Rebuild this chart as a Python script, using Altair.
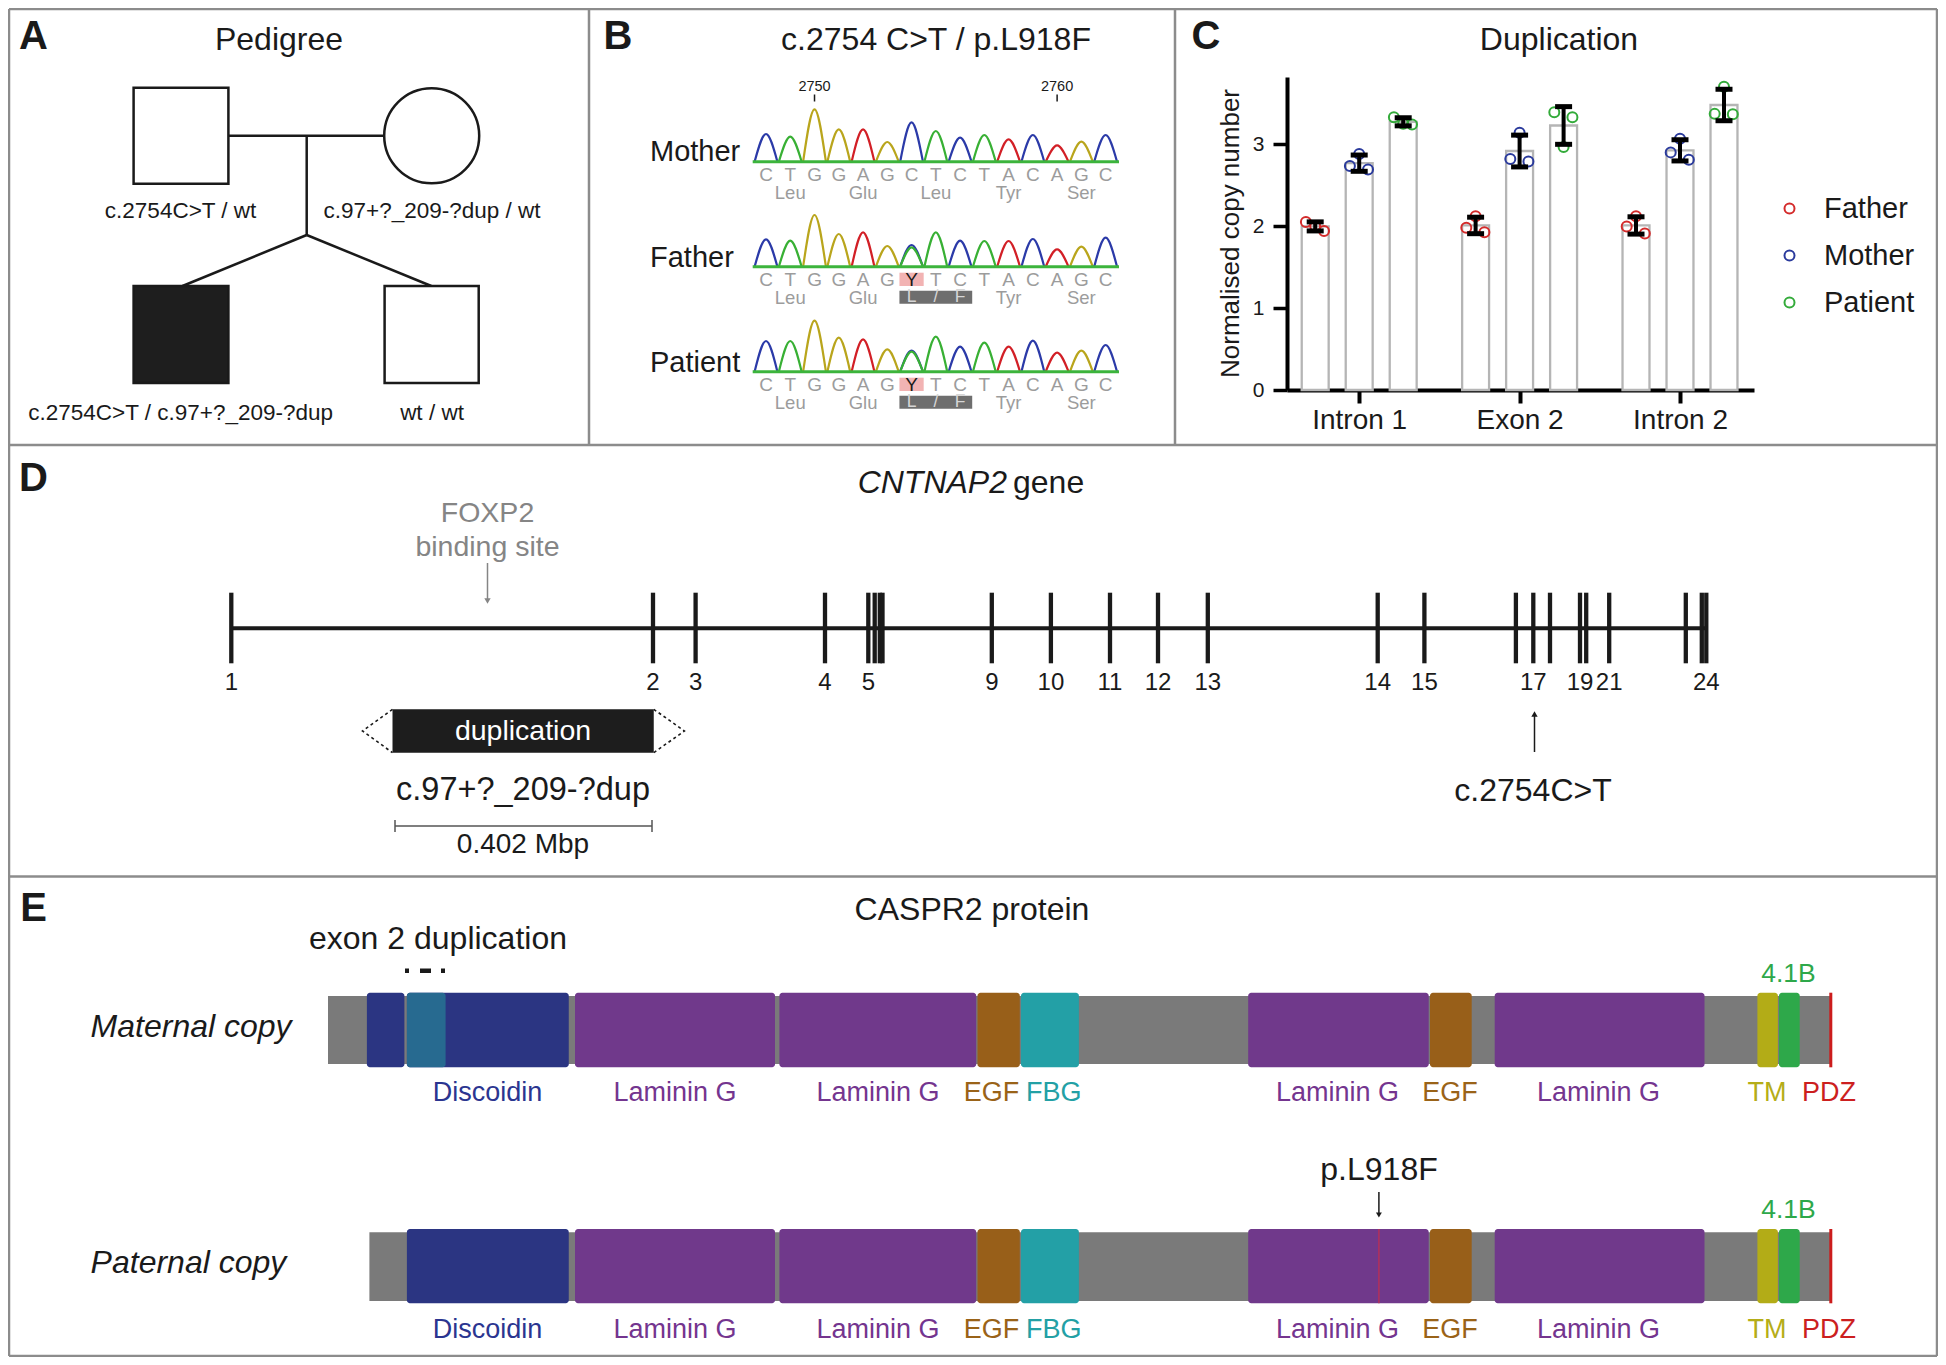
import altair as alt
import numpy as np
import pandas as pd

FONT = "Liberation Sans, Arial, Helvetica, sans-serif"
INK = "#1a1a1a"
BORDER = "#8c8c8c"

# ------------------------------------------------------------------ data
# Panel A: pedigree (positions)
PED_LABELS = ["c.2754C>T / wt", "c.97+?_209-?dup / wt", "c.2754C>T / c.97+?_209-?dup", "wt / wt"]
PED_LABEL_X = [180.6, 432.0, 180.6, 432.0]
PED_LABEL_Y = [210.7, 210.7, 413.0, 413.0]
PED_SQ_X = [133.6, 133.6, 384.6]
PED_SQ_X2 = [228.4, 228.4, 478.7]
PED_SQ_Y = [87.7, 286.0, 286.0]
PED_SQ_Y2 = [183.7, 383.0, 383.0]
PED_SQ_FILL = ["white", "#1e1e1e", "white"]
PED_CIRCLE = [431.7, 135.7]
PED_LINE_X = [228.4, 306.7, 306.7, 306.7]
PED_LINE_Y = [135.7, 135.7, 235.0, 235.0]
PED_LINE_X2 = [384.6, 306.7, 182.5, 431.3]
PED_LINE_Y2 = [135.7, 235.0, 286.0, 286.0]

# Panel B: Sanger traces
B_ROWS = ["Mother", "Father", "Patient"]
B_BASES = ["C", "T", "G", "G", "A", "G", "C", "T", "C", "T", "A", "C", "A", "G", "C"]
B_CALLS = {
    "Mother": B_BASES,
    "Father": B_BASES[:6] + ["Y"] + B_BASES[7:],
    "Patient": B_BASES[:6] + ["Y"] + B_BASES[7:],
}
B_HEIGHTS = {
    "Mother": [27.7, 25, 52.3, 32.3, 32.3, 19.7, 39.3, 30.7, 24, 26.7, 22.3, 26.7, 16.3, 20, 26.7],
    "Father": [27.3, 26, 51.7, 32.7, 34.3, 20.7, 21.7, 34.3, 26, 25.7, 25.7, 27.7, 17.3, 20, 29],
    "Patient": [30.7, 30.7, 51, 34, 32.3, 22.3, 21, 35, 25, 29, 25, 31, 19, 21, 26.7],
}
B_SECOND = {"Father": (6, "T", 19.3), "Patient": (6, "T", 20.0)}
B_AMINO = ["Leu", "Glu", "Leu", "Tyr", "Ser"]
B_AMINO_POS = [1, 4, 7, 10, 13]
B_VARIANT_AA = ["L", "/", "F"]
B_POS_LABELS = ["2750", "2760"]
B_POS_IDX = [2, 12]
TRACE_COLORS = {"A": "#d21f26", "C": "#2b3aa8", "G": "#b9a51c", "T": "#38b034"}
B_X0, B_STEP, B_HALF = 766.0, 24.26, 11.4
B_BASELINE = [161.7, 266.7, 371.7]
B_LABEL_Y = [152.0, 258.0, 363.0]

# Panel C: qPCR copy number
REGIONS = ["Intron 1", "Exon 2", "Intron 2"]
SAMPLES = ["Father", "Mother", "Patient"]
SAMPLE_COLORS = ["#d42b2b", "#2a3a9c", "#33ab3a"]
CN = {
    "Father": [[2.05, 2.00, 1.94], [1.98, 2.12, 1.925], [1.995, 2.12, 1.91]],
    "Mother": [[2.735, 2.88, 2.69], [2.82, 3.14, 2.79], [2.90, 3.065, 2.81]],
    "Patient": [[3.33, 3.25, 3.24], [3.39, 2.965, 3.33], [3.37, 3.70, 3.365]],
}
JITTER = [-0.058, 0.0, 0.055]
BAR_OFFSET, BAR_HALF = 0.2743, 0.084

# Panel D: CNTNAP2 gene
EXON_NUM = list(range(1, 25))
EXON_X = [231.3, 653.0, 695.6, 825.0, 868.3, 874.7, 879.8, 882.5, 991.8, 1050.9, 1110.0, 1158.0,
          1207.8, 1377.7, 1424.4, 1515.9, 1533.3, 1550.0, 1580.0, 1586.2, 1609.2, 1685.8, 1701.8, 1706.3]
EXON_LABELLED = [1, 2, 3, 4, 5, 9, 10, 11, 12, 13, 14, 15, 17, 19, 21, 24]

# Panel E: CASPR2 protein domains  (name, start, end) in figure x-units
DOMAINS_COMMON = [
    ("Laminin G", 575.0, 775.0), ("Laminin G", 779.4, 976.2), ("EGF", 977.5, 1019.8),
    ("FBG", 1021.0, 1078.9), ("Laminin G", 1248.2, 1428.7), ("EGF", 1430.0, 1471.7),
    ("Laminin G", 1494.7, 1704.5), ("TM", 1757.4, 1777.9), ("4.1B", 1779.0, 1799.7),
]
DOMAINS_MATERNAL = [("Discoidin", 366.9, 404.4), ("Discoidin", 406.9, 568.75), ("dup", 406.9, 445.6)]
DOMAINS_PATERNAL = [("Discoidin", 406.9, 568.75)]
DOMAIN_COLORS = {"Discoidin": "#2b3582", "dup": "#276a90", "Laminin G": "#70398b", "EGF": "#985f19",
                 "FBG": "#23a0a6", "TM": "#b3ac17", "4.1B": "#2ea84a", "PDZ": "#cc1c1c"}
LABEL_COLORS = {"Discoidin": "#2b3590", "Laminin G": "#74358f", "EGF": "#9a6318", "FBG": "#23a0a5",
                "TM": "#b5ad18", "PDZ": "#cc1f1f", "4.1B": "#2ea84a"}
DOMAIN_LABELS = ["Discoidin", "Laminin G", "Laminin G", "EGF", "FBG", "Laminin G", "EGF", "Laminin G", "TM", "PDZ"]
DOMAIN_LABEL_X = [487.5, 675.0, 878.0, 991.6, 1053.7, 1337.5, 1450.0, 1598.6, 1767.0, 1829.0]
PROT_START = {"Maternal copy": 328.0, "Paternal copy": 369.4}
PROT_END = 1830.8
PROT_BOX_Y = {"Maternal copy": (992.7, 1067.3), "Paternal copy": (1229.0, 1303.3)}
PROT_BB_Y = {"Maternal copy": (996.0, 1064.0), "Paternal copy": (1232.3, 1301.0)}
PROT_LABEL_Y = {"Maternal copy": (1026.7, 1093.3, 974.0), "Paternal copy": (1263.3, 1330.0, 1210.0)}
MUTATION_X = 1378.9

# ------------------------------------------------------------------ frame
W, H = 1930, 1349
OX, OY = 8, 8
XS = alt.Scale(domain=[OX, OX + W], nice=False, zero=False)
YS = alt.Scale(domain=[OY + H, OY], nice=False, zero=False)


def gx(f="x"):
    return alt.X(f"{f}:Q", scale=XS, axis=None)


def gy(f="y"):
    return alt.Y(f"{f}:Q", scale=YS, axis=None)


def rules(df, color=INK, width=2.5, dash=None, cap="butt"):
    kw = dict(color=color, strokeWidth=width, strokeCap=cap)
    if dash:
        kw["strokeDash"] = dash
    return alt.Chart(df).mark_rule(**kw).encode(x=gx(), y=gy(), x2="x2:Q", y2="y2:Q")


def rects(df, stroke=None, width=0, radius=0):
    kw = dict(cornerRadius=radius)
    if stroke:
        kw.update(stroke=stroke, strokeWidth=width)
    return alt.Chart(df).mark_rect(**kw).encode(
        x=gx(), y=gy(), x2="x2:Q", y2="y2:Q", color=alt.Color("fill:N", scale=None))


def texts(df, size, color=INK, align="center", style="normal", weight="normal", baseline="middle"):
    enc = dict(x=gx(), y=gy(), text="t:N")
    kw = dict(align=align, baseline=baseline, fontSize=size, font=FONT, fontStyle=style, fontWeight=weight)
    if "c" in df.columns:
        enc["color"] = alt.Color("c:N", scale=None)
    else:
        kw["color"] = color
    return alt.Chart(df).mark_text(**kw).encode(**enc)


def arrowhead(x, y, shape, color=INK, size=45):
    return alt.Chart(pd.DataFrame({"x": [x], "y": [y]})).mark_point(
        shape=shape, filled=True, size=size, color=color, opacity=1).encode(x=gx(), y=gy())


layers = []

# ---- panel borders
layers.append(rules(pd.DataFrame({
    "x": [9, 9, 9, 9, 9, 1937, 589, 1175],
    "y": [9, 445, 876.5, 1356, 9, 9, 9, 9],
    "x2": [1937, 1937, 1937, 1937, 9, 1937, 589, 1175],
    "y2": [9, 445, 876.5, 1356, 1356, 1356, 445, 445],
}), color=BORDER, width=2.5))

# ---- panel letters and titles
layers.append(texts(pd.DataFrame({"t": ["A", "B", "C", "D", "E"],
                                  "x": [33.5, 618, 1206, 33.5, 33.5],
                                  "y": [37, 37, 37, 479, 909]}), 40, weight="bold"))
layers.append(texts(pd.DataFrame({"t": ["Pedigree", "c.2754 C>T / p.L918F", "Duplication", "CASPR2 protein"],
                                  "x": [279, 936, 1559, 972], "y": [40, 40, 40, 910]}), 32))
layers.append(texts(pd.DataFrame({"t": ["CNTNAP2"], "x": [1007], "y": [483]}), 32, align="right", style="italic"))
layers.append(texts(pd.DataFrame({"t": ["gene"], "x": [1013], "y": [483]}), 32, align="left"))

# ---- panel A: pedigree
layers.append(rules(pd.DataFrame({"x": PED_LINE_X, "y": PED_LINE_Y, "x2": PED_LINE_X2, "y2": PED_LINE_Y2}),
                    width=2.5))
layers.append(rects(pd.DataFrame({"x": PED_SQ_X, "x2": PED_SQ_X2, "y": PED_SQ_Y, "y2": PED_SQ_Y2,
                                  "fill": PED_SQ_FILL}), stroke=INK, width=2.5))
layers.append(alt.Chart(pd.DataFrame({"x": [PED_CIRCLE[0]], "y": [PED_CIRCLE[1]]})).mark_point(
    shape="circle", size=95 * 95, filled=False, stroke=INK, strokeWidth=2.5, fill="white", opacity=1
).encode(x=gx(), y=gy()))
layers.append(texts(pd.DataFrame({"t": PED_LABELS, "x": PED_LABEL_X, "y": PED_LABEL_Y}), 22.5))

# ---- panel B: chromatograms
peak_rows, letter_rows, aa_rows = [], [], []
pink, darkbox, lf_rows = [], [], []
for r, name in enumerate(B_ROWS):
    base_y = B_BASELINE[r]
    traces = [(i, b, h) for i, (b, h) in enumerate(zip(B_BASES, B_HEIGHTS[name]))]
    if name in B_SECOND:
        traces.append(B_SECOND[name])
    for (i, b, h) in traces:
        cx = B_X0 + i * B_STEP
        pid = f"{name}-{i}-{b}"
        for k, (dx, hh) in enumerate([(-B_HALF, 0.0), (0.0, h), (B_HALF, 0.0)]):
            peak_rows.append({"x": cx + dx, "y": base_y - hh, "pid": pid, "k": k, "col": TRACE_COLORS[b]})
    for i, b in enumerate(B_CALLS[name]):
        letter_rows.append({"t": b, "x": B_X0 + i * B_STEP, "y": base_y + 13.3,
                            "c": INK if b == "Y" else "#9c9c9c"})
        if b == "Y":
            pink.append({"x": B_X0 + (i - 0.5) * B_STEP, "x2": B_X0 + (i + 0.5) * B_STEP,
                         "y": base_y + 6.0, "y2": base_y + 19.3, "fill": "#f2b3b3"})
            darkbox.append({"x": B_X0 + (i - 0.5) * B_STEP, "x2": B_X0 + (i + 2.5) * B_STEP,
                            "y": base_y + 24.0, "y2": base_y + 37.0, "fill": "#6e6e6e"})
            for j, t in enumerate(B_VARIANT_AA):
                lf_rows.append({"t": t, "x": B_X0 + (i + j) * B_STEP, "y": base_y + 30.5})
    for aa, p in zip(B_AMINO, B_AMINO_POS):
        if name != "Mother" and p == 7:
            continue
        aa_rows.append({"t": aa, "x": B_X0 + p * B_STEP, "y": base_y + 31.0})

peaks = pd.DataFrame(peak_rows)
layers.append(alt.Chart(peaks).mark_line(interpolate="monotone", strokeWidth=2.2, strokeJoin="round").encode(
    x=gx(), y=gy(), detail="pid:N", order="k:Q", color=alt.Color("col:N", scale=None)))
layers.append(rules(pd.DataFrame({"x": [752.7] * 3, "x2": [1119.0] * 3, "y": B_BASELINE, "y2": B_BASELINE}),
                    color="#3cb43c", width=3))
layers.append(rects(pd.DataFrame(pink)))
layers.append(rects(pd.DataFrame(darkbox)))
layers.append(texts(pd.DataFrame(letter_rows), 19))
layers.append(texts(pd.DataFrame(aa_rows), 18.5, color="#9c9c9c"))
layers.append(texts(pd.DataFrame(lf_rows), 17.5, color="#d6d6d6"))
layers.append(texts(pd.DataFrame({"t": B_ROWS, "x": [650] * 3, "y": B_LABEL_Y}), 29, align="left"))
pos_x = [B_X0 + i * B_STEP for i in B_POS_IDX]
layers.append(texts(pd.DataFrame({"t": B_POS_LABELS, "x": pos_x, "y": [86.7, 86.7]}), 14.5))
layers.append(rules(pd.DataFrame({"x": pos_x, "x2": pos_x, "y": [94.5, 94.5], "y2": [101.5, 101.5]}),
                    width=1.5))

# ---- panel D: gene
layers.append(rules(pd.DataFrame({"x": [EXON_X[0]], "x2": [EXON_X[-1] + 1.5], "y": [628.3], "y2": [628.3]}),
                    width=4))
layers.append(rules(pd.DataFrame({"x": EXON_X, "x2": EXON_X, "y": [592.7] * 24, "y2": [663.3] * 24}),
                    width=4.3))
layers.append(texts(pd.DataFrame({"t": [str(n) for n in EXON_LABELLED],
                                  "x": [EXON_X[n - 1] for n in EXON_LABELLED],
                                  "y": [683.3] * len(EXON_LABELLED)}), 24))
layers.append(texts(pd.DataFrame({"t": ["FOXP2", "binding site"], "x": [487.5, 487.5], "y": [512.7, 547.3]}),
                    28.5, color="#858585"))
layers.append(rules(pd.DataFrame({"x": [487.5], "x2": [487.5], "y": [563.0], "y2": [600.0]}),
                    color="#858585", width=1.5))
layers.append(arrowhead(487.5, 601.0, "triangle-down", color="#858585", size=40))
layers.append(rects(pd.DataFrame({"x": [392.5], "x2": [653.75], "y": [709.3], "y2": [752.7], "fill": ["#1d1d1d"]})))
chev = pd.DataFrame({"x": [392.5, 362.5, 392.5, 653.75, 684.4, 653.75],
                     "y": [709.3, 731.0, 752.7, 709.3, 731.0, 752.7],
                     "g": ["l"] * 3 + ["r"] * 3, "k": [0, 1, 2, 0, 1, 2]})
layers.append(alt.Chart(chev).mark_line(color=INK, strokeWidth=1.6, strokeDash=[3, 3]).encode(
    x=gx(), y=gy(), detail="g:N", order="k:Q"))
layers.append(texts(pd.DataFrame({"t": ["duplication"], "x": [523.0], "y": [731.0]}), 28.5, color="white"))
layers.append(texts(pd.DataFrame({"t": ["c.97+?_209-?dup"], "x": [523.0], "y": [789.5]}), 32.5))
layers.append(rules(pd.DataFrame({"x": [395.0, 395.0, 652.0], "x2": [652.0, 395.0, 652.0],
                                  "y": [826.0, 820.0, 820.0], "y2": [826.0, 832.0, 832.0]}),
                    color="#555555", width=1.5))
layers.append(texts(pd.DataFrame({"t": ["0.402 Mbp"], "x": [523.0], "y": [845.0]}), 28))
layers.append(rules(pd.DataFrame({"x": [1534.5], "x2": [1534.5], "y": [752.0], "y2": [716.0]}), width=1.5))
layers.append(arrowhead(1534.5, 714.0, "triangle-up", size=40))
layers.append(texts(pd.DataFrame({"t": ["c.2754C>T"], "x": [1533.0], "y": [790.7]}), 32))

# ---- panel E: protein
bb_rows, dom_rows, lab_rows, green_rows, pdz_rows = [], [], [], [], []
for copy, doms in [("Maternal copy", DOMAINS_MATERNAL), ("Paternal copy", DOMAINS_PATERNAL)]:
    by, by2 = PROT_BB_Y[copy]
    bb_rows.append({"x": PROT_START[copy], "x2": PROT_END, "y": by, "y2": by2, "fill": "#7a7a7a"})
    dy, dy2 = PROT_BOX_Y[copy]
    for name, s, e in doms + DOMAINS_COMMON:
        dom_rows.append({"x": s, "x2": e, "y": dy, "y2": dy2, "fill": DOMAIN_COLORS[name]})
    pdz_rows.append({"x": PROT_END, "x2": PROT_END, "y": dy, "y2": dy2})
    ty, ly, gy41 = PROT_LABEL_Y[copy]
    for t, x in zip(DOMAIN_LABELS, DOMAIN_LABEL_X):
        lab_rows.append({"t": t, "x": x, "y": ly, "c": LABEL_COLORS[t]})
    green_rows.append({"t": "4.1B", "x": 1788.5, "y": gy41, "c": LABEL_COLORS["4.1B"]})
layers.append(rects(pd.DataFrame(bb_rows)))
layers.append(rects(pd.DataFrame(dom_rows), radius=3))
layers.append(rules(pd.DataFrame(pdz_rows), color=DOMAIN_COLORS["PDZ"], width=3))
py, py2 = PROT_BOX_Y["Paternal copy"]
layers.append(rules(pd.DataFrame({"x": [MUTATION_X], "x2": [MUTATION_X], "y": [py], "y2": [py2]}),
                    color="#b3305a", width=1.5))
layers.append(texts(pd.DataFrame(lab_rows), 27))
layers.append(texts(pd.DataFrame(green_rows), 26.5))
layers.append(texts(pd.DataFrame({"t": list(PROT_START.keys()), "x": [90.6, 90.6],
                                  "y": [PROT_LABEL_Y[c][0] for c in PROT_START]}), 32, align="left",
                    style="italic"))
layers.append(texts(pd.DataFrame({"t": ["exon 2 duplication"], "x": [438.0], "y": [939.0]}), 32))
layers.append(rules(pd.DataFrame({"x": [405.0], "x2": [445.5], "y": [970.7], "y2": [970.7]}),
                    width=4.5, dash=[4, 11, 11, 10, 4, 60]))
layers.append(texts(pd.DataFrame({"t": ["p.L918F"], "x": [1379.0], "y": [1170.0]}), 32))
layers.append(rules(pd.DataFrame({"x": [MUTATION_X], "x2": [MUTATION_X], "y": [1192.0], "y2": [1213.0]}),
                    width=1.5))
layers.append(arrowhead(MUTATION_X, 1215.0, "triangle-down", size=35))

main = alt.layer(*layers)

# ------------------------------------------------------------------ panel C (own scales)
rows, pts = [], []
for gi, reg in enumerate(REGIONS):
    for si, s in enumerate(SAMPLES):
        vals = np.array(CN[s][gi])
        xpos = gi + 1 + (si - 1) * BAR_OFFSET
        m, sd = vals.mean(), vals.std(ddof=1)
        rows.append({"region": reg, "sample": s, "xpos": xpos, "xl": xpos - BAR_HALF, "xr": xpos + BAR_HALF,
                     "mean": m, "lo": m - sd, "hi": m + sd, "zero": 0.0})
        for k, v in enumerate(vals):
            pts.append({"sample": s, "xp": xpos + JITTER[k], "value": v})
cdf = pd.DataFrame(rows)
pdf = pd.DataFrame(pts)

AX_X0, AX_X1, AX_Y0, AX_Y1 = 1287.0, 1754.0, 390.0, 77.0
CX = alt.Scale(domain=[1 - (1359.2 - AX_X0) / 160.4, 3 + (AX_X1 - 1680.0) / 160.4],
               range=[AX_X0 - OX, AX_X1 - OX], nice=False, zero=False)
CY = alt.Scale(domain=[0, 3.82], range=[AX_Y0 - OY, AX_Y1 - OY], nice=False, zero=False)
label_expr = " : ".join(f"datum.value == {i + 1} ? '{r}'" for i, r in enumerate(REGIONS[:-1])) + f" : '{REGIONS[-1]}'"
x_axis = alt.Axis(orient="bottom", offset=(AX_Y0 - OY) - H, values=[1, 2, 3], labelExpr=label_expr,
                  domainColor="black", domainWidth=4, tickColor="black", tickWidth=4, tickSize=13,
                  labelFont=FONT, labelFontSize=28, labelColor=INK, labelPadding=3, labelFlush=False,
                  grid=False, title=None)
y_axis = alt.Axis(orient="left", offset=-(AX_X0 - OX), values=[0, 1, 2, 3], domainColor="black",
                  domainWidth=4, tickColor="black", tickWidth=3.5, tickSize=14, labelFont=FONT,
                  labelFontSize=21, labelColor=INK, labelPadding=9, labelFlush=False, grid=False,
                  title="Normalised copy number", titleFont=FONT, titleFontSize=26, titleFontWeight="normal",
                  titleColor=INK, titleX=AX_X0 - 1238.0 - (AX_X0 - 1238.0) * 2, titleY=233.0 - OY,
                  titleAngle=270, titleBaseline="alphabetic", titleAlign="center")

bars = alt.Chart(cdf).mark_bar(fill="white", stroke="#b5b5b5", strokeWidth=2.3).encode(
    x=alt.X("xl:Q", scale=CX, axis=x_axis), x2="xr:Q",
    y=alt.Y("mean:Q", scale=CY, axis=y_axis), y2="zero:Q")
points = alt.Chart(pdf).mark_point(shape="circle", filled=False, size=100, strokeWidth=2, opacity=1).encode(
    x=alt.X("xp:Q", scale=CX, axis=x_axis), y=alt.Y("value:Q", scale=CY, axis=y_axis),
    color=alt.Color("sample:N", scale=alt.Scale(domain=SAMPLES, range=SAMPLE_COLORS),
                    legend=alt.Legend(orient="none", legendX=1767, legendY=186, title=None, labelFont=FONT,
                                      labelFontSize=29, labelColor=INK, symbolSize=100, symbolStrokeWidth=2,
                                      symbolType="circle", labelOffset=20, rowPadding=17, padding=0)))
err = alt.Chart(cdf).mark_rule(color="black", strokeWidth=4).encode(
    x=alt.X("xpos:Q", scale=CX, axis=x_axis), y=alt.Y("lo:Q", scale=CY, axis=y_axis), y2="hi:Q")
caps_hi = alt.Chart(cdf).mark_tick(color="black", orient="horizontal", size=17, thickness=5, opacity=1).encode(
    x=alt.X("xpos:Q", scale=CX, axis=x_axis), y=alt.Y("hi:Q", scale=CY, axis=y_axis))
caps_lo = alt.Chart(cdf).mark_tick(color="black", orient="horizontal", size=17, thickness=5, opacity=1).encode(
    x=alt.X("xpos:Q", scale=CX, axis=x_axis), y=alt.Y("lo:Q", scale=CY, axis=y_axis))
panel_c = alt.layer(bars, points, err, caps_hi, caps_lo)

chart = alt.layer(main, panel_c).resolve_scale(x="independent", y="independent").properties(
    width=W, height=H, autosize=alt.AutoSizeParams(type="none"), padding=0, background="white"
).configure_view(stroke=None)

chart.save("out.html", embed_options={"renderer": "svg", "actions": False})
